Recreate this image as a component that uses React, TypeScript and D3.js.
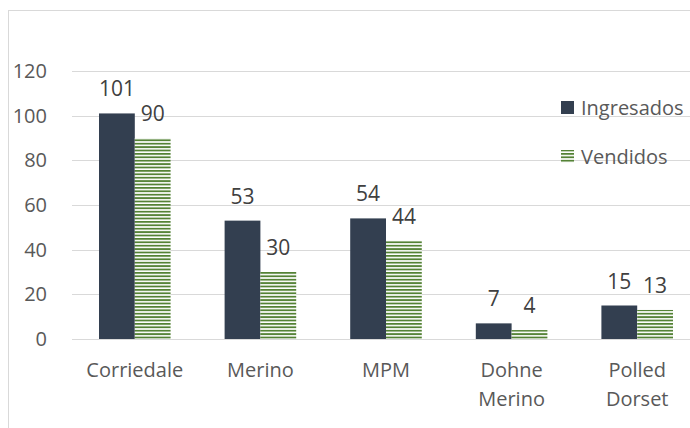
import React from "react";
import * as d3 from "d3";

const categories: string[][] = [["Corriedale"], ["Merino"], ["MPM"], ["Dohne", "Merino"], ["Polled", "Dorset"]];
const seriesNames = ["Ingresados", "Vendidos"];
const ingresados = [101, 53, 54, 7, 15];
const vendidos = [90, 30, 44, 4, 13];
const yTicks = [0, 20, 40, 60, 80, 100, 120];

const W = 690;
const H = 428;
const DARK = "#333f50";
const GREEN = "#548235";
const FONT = "'Open Sans', sans-serif";

export default function App() {
  const keys = categories.map((c) => c.join(" "));
  const x0 = d3.scaleBand<string>().domain(keys).range([72, 700]).paddingInner(0.43).paddingOuter(0.215);
  const x1 = d3.scaleBand<string>().domain(seriesNames).range([0, x0.bandwidth()]);
  const y = d3.scaleLinear().domain([0, 120]).range([339, 71]);
  const series = [ingresados, vendidos];

  return (
    <svg width={W} height={H} style={{ position: "absolute", left: 0, top: 0, background: "#fff" }} fontFamily={FONT}>
      <defs>
        <pattern id="stripes" patternUnits="userSpaceOnUse" width={8} height={3.4}>
          <rect x={0} y={0} width={8} height={3.4} fill="#ffffff" />
          <rect x={0} y={0} width={8} height={1.8} fill={GREEN} />
        </pattern>
      </defs>
      <rect x={8.5} y={10.5} width={W + 10} height={H + 10} fill="#fff" stroke="#d9d9d9" strokeWidth={1} />
      {yTicks.map((t) => (
        <g key={t}>
          <line x1={72} x2={W} y1={Math.round(y(t)) + 0.5} y2={Math.round(y(t)) + 0.5} stroke="#d9d9d9" strokeWidth={1} />
          <text x={47} y={y(t)} dy="0.35em" textAnchor="end" fontSize={20} fill="#595959">
            {t}
          </text>
        </g>
      ))}
      {keys.map((k, i) => (
        <g key={k}>
          {series.map((vals, s) => {
            const bx = (x0(k) as number) + (x1(seriesNames[s]) as number);
            const bw = x1.bandwidth();
            return (
              <g key={s}>
                <rect
                  x={bx}
                  y={y(vals[i])}
                  width={bw}
                  height={y(0) - y(vals[i])}
                  fill={s === 0 ? DARK : "url(#stripes)"}
                />
                <text x={bx + bw / 2} y={y(vals[i]) - 17} textAnchor="middle" fontSize={21} fill="#404040">
                  {vals[i]}
                </text>
              </g>
            );
          })}
          {categories[i].map((line, li) => (
            <text
              key={li}
              x={(x0(k) as number) + x0.bandwidth() / 2}
              y={377 + li * 29}
              textAnchor="middle"
              fontSize={20}
              fill="#595959"
            >
              {line}
            </text>
          ))}
        </g>
      ))}
      <g>
        <rect x={561} y={101} width={13} height={13} fill={DARK} />
        <text x={581} y={115} fontSize={20} fill="#595959">
          {seriesNames[0]}
        </text>
        <rect x={561} y={150} width={13} height={13} fill="url(#stripes)" />
        <text x={581} y={164} fontSize={20} fill="#595959">
          {seriesNames[1]}
        </text>
      </g>
    </svg>
  );
}
